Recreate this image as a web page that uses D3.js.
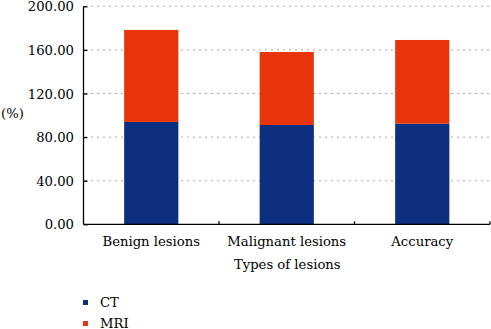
<!DOCTYPE html>
<html>
<head>
<meta charset="UTF-8" />
<script src="https://cdnjs.cloudflare.com/ajax/libs/d3/7.8.5/d3.min.js"></script>
<style>
  body { margin: 0; background: #fff; }
  .grid line { stroke: #555; stroke-width: 1; stroke-dasharray: 1 5; }
  .axis path, .axis line { stroke: #000; stroke-width: 1.3; }
</style>
</head>
<body>
<svg width="491" height="329"></svg>
<script>
var categories = ["Benign lesions", "Malignant lesions", "Accuracy"];
var ctValues = [93.9, 91.1, 92.3];
var mriValues = [84.4, 67.0, 76.8];
var yTicks = [0, 40, 80, 120, 160, 200];
var seriesNames = ["CT", "MRI"];
var colors = ["#0c2f80", "#e8340a"];

var svg = d3.select("svg");
var plotLeft = 83.5, plotRight = 490, plotTop = 6.3, plotBottom = 224.3;
var serif = "DejaVu Serif";
var fs = 13.2;

var x = d3.scaleBand().domain(categories).range([plotLeft, plotRight]).paddingInner(0).paddingOuter(0);
var y = d3.scaleLinear().domain([0, 200]).range([plotBottom, plotTop]);

// dotted grid
svg.append("g").attr("class", "grid")
  .selectAll("line")
  .data(yTicks.filter(d => d > 0))
  .enter().append("line")
  .attr("x1", plotLeft + 2).attr("x2", plotRight)
  .attr("y1", d => y(d)).attr("y2", d => y(d));

// stacked bars
var rows = categories.map((c, i) => ({ cat: c, CT: ctValues[i], MRI: mriValues[i] }));
var stack = d3.stack().keys(seriesNames)(rows);
var barW = x.bandwidth() * 0.4;

svg.append("g").selectAll("g")
  .data(stack)
  .enter().append("g")
  .attr("fill", (d, i) => colors[i])
  .selectAll("rect")
  .data(d => d)
  .enter().append("rect")
  .attr("x", d => x(d.data.cat) + (x.bandwidth() - barW) / 2)
  .attr("width", barW)
  .attr("y", d => y(d[1]))
  .attr("height", d => y(d[0]) - y(d[1]));

// y axis
var yAxis = d3.axisRight(y).tickValues(yTicks).tickSize(4).tickFormat("");
svg.append("g").attr("class", "axis")
  .attr("transform", "translate(" + plotLeft + ",0)")
  .call(yAxis)
  .call(g => g.select(".domain").attr("d", "M0," + plotTop + "V" + plotBottom));

svg.append("g").selectAll("text")
  .data(yTicks)
  .enter().append("text")
  .attr("x", 74)
  .attr("y", d => y(d) + 5)
  .attr("text-anchor", "end")
  .style("font-family", serif)
  .attr("font-size", fs)
  .text(d => d3.format(".2f")(d));

// x axis
svg.append("g").attr("class", "axis")
  .append("line")
  .attr("x1", plotLeft).attr("x2", plotRight)
  .attr("y1", plotBottom).attr("y2", plotBottom);

svg.append("g").attr("class", "axis")
  .selectAll("line")
  .data(categories)
  .enter().append("line")
  .attr("x1", d => x(d) + x.bandwidth())
  .attr("x2", d => x(d) + x.bandwidth())
  .attr("y1", plotBottom).attr("y2", plotBottom - 3);

svg.append("g").selectAll("text")
  .data(categories)
  .enter().append("text")
  .attr("x", d => x(d) + x.bandwidth() / 2)
  .attr("y", 246)
  .attr("text-anchor", "middle")
  .style("font-family", serif)
  .attr("font-size", fs)
  .text(d => d);

svg.append("text")
  .attr("x", (plotLeft + plotRight) / 2 + 0.5)
  .attr("y", 269)
  .attr("text-anchor", "middle")
  .style("font-family", serif)
  .attr("font-size", fs)
  .text("Types of lesions");

svg.append("text")
  .attr("x", 1)
  .attr("y", 118)
  .style("font-family", serif)
  .attr("font-size", fs)
  .text("(%)");

// legend
var legend = svg.append("g").selectAll("g")
  .data(seriesNames)
  .enter().append("g")
  .attr("transform", (d, i) => "translate(83," + (300 + i * 21) + ")");
legend.append("rect").attr("width", 5).attr("height", 5).attr("fill", (d, i) => colors[i]);
legend.append("text").attr("x", 17).attr("y", 7)
  .style("font-family", serif).attr("font-size", fs).text(d => d);
</script>
</body>
</html>
